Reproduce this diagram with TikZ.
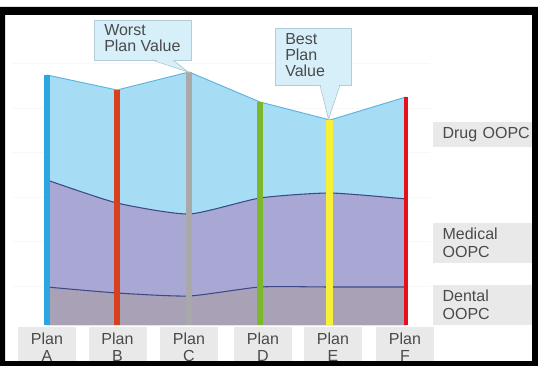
\documentclass[tikz,border=0pt]{standalone}
\usepackage{fontspec}
\setmainfont{Liberation Sans}
\definecolor{drugc}{HTML}{A6DDF4}
\definecolor{medc}{HTML}{A9A8D5}
\definecolor{denc}{HTML}{A9A2B7}
\definecolor{boundc}{HTML}{3C4A88}
\definecolor{topc}{HTML}{5BB3DE}
\definecolor{callfill}{HTML}{D6EFF9}
\definecolor{calldraw}{HTML}{B4CCD8}
\definecolor{boxfill}{HTML}{E9E9E9}
\definecolor{txt}{HTML}{4A4A4A}
\definecolor{gridc}{HTML}{F8F8F8}
\definecolor{barA}{HTML}{2BA6E1}
\definecolor{barB}{HTML}{D8411E}
\definecolor{barC}{HTML}{A9A9A9}
\definecolor{barD}{HTML}{7CB82A}
\definecolor{barE}{HTML}{F6F03A}
\definecolor{barF}{HTML}{E5101C}
\begin{document}
\begin{tikzpicture}[x=0.75pt,y=-0.75pt,
  bar/.style={line width=3.9pt},
  bound/.style={draw=boundc,line width=0.8pt},
  callbox/.style={fill=callfill,draw=calldraw,line width=0.6pt},
  calltext/.style={text=txt,font=\fontsize{12}{12}\selectfont,align=left,anchor=north west,inner sep=0pt},
  planbox/.style={fill=boxfill,minimum width=43.5pt,minimum height=30pt,inner sep=0pt,text=txt,align=center,font=\fontsize{12}{12.75}\selectfont},
  sidebox/.style={fill=boxfill,anchor=west,inner xsep=7pt,inner ysep=0pt,text width=70pt,text=txt,align=left,font=\fontsize{12}{13.5}\selectfont}
]
\useasboundingbox (0,0) rectangle (538,366);
\fill[white] (0,0) rectangle (538,366);
% faint grid
\foreach \yy in {63,108,152,197,241,286}{\draw[gridc,line width=0.6pt] (12,\yy) -- (430,\yy);}
% areas
\fill[drugc] (47,75) -- (117,90) -- (189,72) -- (260,102) -- (330,120) -- (406,97) -- (406,325) -- (47,325) -- cycle;
\fill[medc] plot[smooth,tension=0.35] coordinates {(47,180) (117,203) (189,214) (260,198) (330,193) (406,199)} -- (406,325) -- (47,325) -- cycle;
\fill[denc] plot[smooth,tension=0.35] coordinates {(47,287) (117,293) (189,296) (260,287) (330,287) (406,287)} -- (406,325) -- (47,325) -- cycle;
\draw[topc,line width=0.7pt] (47,75) -- (117,90) -- (189,72) -- (260,102) -- (330,120) -- (406,97);
\draw[bound] plot[smooth,tension=0.35] coordinates {(47,180) (117,203) (189,214) (260,198) (330,193) (406,199)};
\draw[bound] plot[smooth,tension=0.35] coordinates {(47,287) (117,293) (189,296) (260,287) (330,287) (406,287)};
% bars
\draw[bar,barA] (47,75) -- (47,325);
\draw[bar,barB] (117,90) -- (117,325);
\draw[bar,barC] (189,72) -- (189,325);
\draw[bar,barD] (260,102) -- (260,325);
\draw[bar,line width=5pt,barE] (329.5,120) -- (329.5,325);
\draw[bar,line width=3.5pt,barF] (406,97) -- (406,325);
% callouts
\draw[callbox] (94,20) rectangle (191,60);
\fill[callfill] (152.6,59) -- (188,72) -- (172.4,59) -- cycle;
\draw[calldraw,line width=0.6pt] (152,60) -- (188,72) -- (173,60);
\node[calltext] (worst) at (104,24) {Worst\\Plan Value};
\draw[callbox] (275,28) rectangle (351,85);
\fill[callfill] (320.6,84) -- (328.5,119) -- (339.4,84) -- cycle;
\draw[calldraw,line width=0.6pt] (320,85) -- (328.5,119) -- (340,85);
\node[calltext] (best) at (285,33) {Best\\Plan\\Value};
% plan labels
\node[planbox] (pA) at (47,347) {Plan\\A};
\node[planbox] (pB) at (117.5,347) {Plan\\B};
\node[planbox] (pC) at (189,347) {Plan\\C};
\node[planbox] (pD) at (263,347) {Plan\\D};
\node[planbox] (pE) at (333,347) {Plan\\E};
\node[planbox] (pF) at (405,347) {Plan\\F};
% side labels
\node[sidebox,minimum height=18.75pt] (drug) at (433,134.5) {Drug OOPC};
\node[sidebox,minimum height=30pt] (med) at (433,243) {Medical\\OOPC};
\node[sidebox,minimum height=30pt] (den) at (433,305) {Dental\\OOPC};
% frame
\fill[black,even odd rule] (0,7) rectangle (538,366) (5,15) rectangle (532,361);
\end{tikzpicture}
\end{document}
